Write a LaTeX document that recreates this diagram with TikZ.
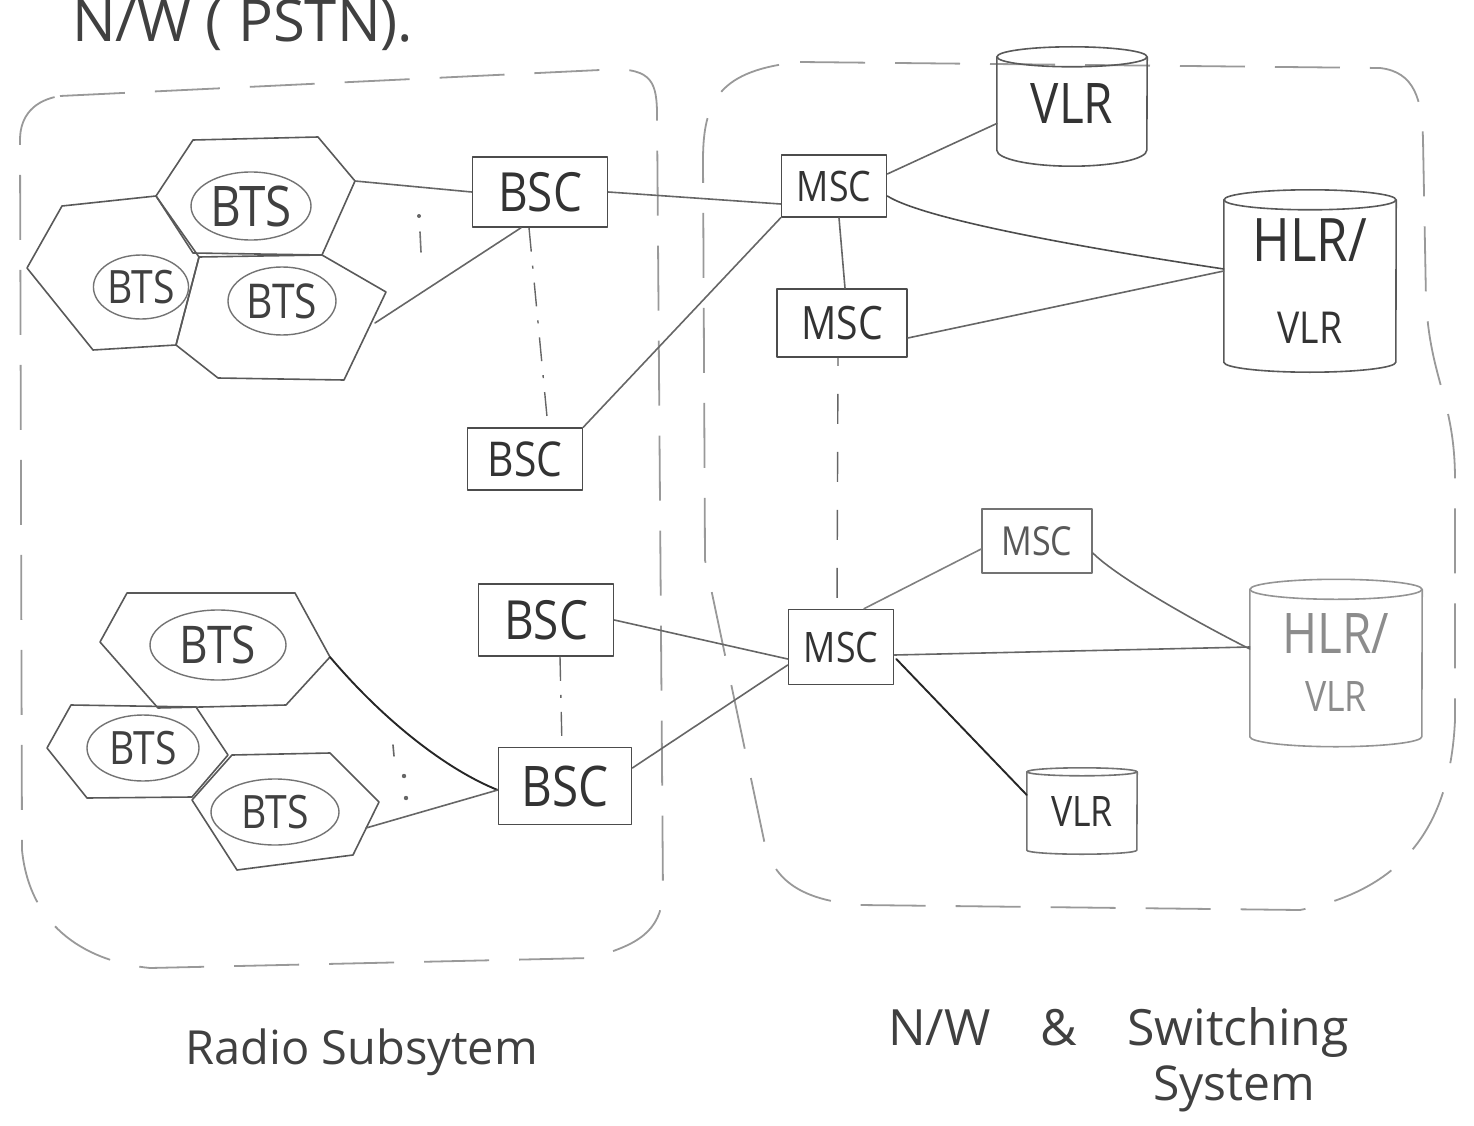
\documentclass[tikz,border=0pt]{standalone}
\usepackage{fontspec}
\setmainfont{Open Sans}
\newfontfamily\handfont{Open Sans}[FakeStretch=0.85]
\usetikzlibrary{shapes.geometric,calc}
\tikzset{
  pencil/.style={line width=1.6pt, line cap=round, line join=round},
  hexcell/.style={pencil, draw=black!65},
  btsnode/.style={ellipse, draw=black!55, line width=1.4pt, inner sep=0pt, text=black!75},
  boxnode/.style={rectangle, draw=black!70, pencil, inner sep=0pt, text=black!80},
  dbnode/.style={rectangle, inner sep=0pt, text=black!80, align=center},
  dbline/.style={pencil, draw=black!65},
  link/.style={pencil, draw=black!60},
  darklink/.style={line width=1.9pt, line cap=round, draw=black!85},
  dashdot/.style={line width=1.4pt, draw=black!60, dash pattern=on 24pt off 14pt on 3pt off 14pt},
  longdash/.style={line width=1.4pt, draw=black!60, dash pattern=on 30pt off 28pt, dash phase=-36pt},
  region/.style={line width=1.8pt, draw=black!40, dash pattern=on 65pt off 30pt},
  hw/.style={font=\handfont\fontsize{#1}{#1}\selectfont},
  lab/.style={font=\fontsize{#1}{#1}\selectfont, text=black!75, inner sep=0pt},
}
\newcommand{\drawcyl}[5]{% name, rx, ry top, ry bottom, colour
  \draw[dbline, draw=#5] (#1.north) ellipse[x radius=#2, y radius=#3];
  \draw[dbline, draw=#5] (#1.north west) -- (#1.south west) arc[start angle=180, end angle=0, x radius=#2, y radius=#4] -- (#1.north east);
}
\begin{document}
\begin{tikzpicture}[x=1pt, y=-1pt]
\useasboundingbox (0,0) rectangle (1474,1126);

% ---------- regions ----------
\draw[region] (60,96) -- (600,70) .. controls (650,66) and (656,80) .. (657,110) -- (663,895)
  .. controls (660,930) and (640,945) .. (590,958) -- (150,968)
  .. controls (90,962) and (30,930) .. (22,850) -- (20,140)
  .. controls (20,115) and (35,100) .. (60,96);
\draw[region] (800,62) -- (1380,68) .. controls (1415,72) and (1422,100) .. (1423,140)
  -- (1426,300) .. controls (1430,380) and (1455,400) .. (1455,480) -- (1455,720)
  .. controls (1450,830) and (1400,890) .. (1300,910) -- (860,905)
  .. controls (800,900) and (775,880) .. (765,845) -- (705,560) -- (703,160)
  .. controls (703,100) and (720,70) .. (800,62);

% ---------- title and captions ----------
\node[lab=58, anchor=base west] (title) at (72,42) {N/W ( PSTN).};
\node[lab=47, anchor=base west] (radiolab) at (185,1064) {Radio Subsytem};
\node[lab=50, anchor=base west] (nwlab) at (888,1045) {N/W\quad\&\quad Switching};
\node[lab=48, anchor=base] (syslab) at (1234,1100) {System};

% ---------- upper hex cells ----------
\draw[hexcell] (193,140) -- (318,137) -- (355,181) -- (322,255) -- (193,253) -- (156,196) -- cycle;
\draw[hexcell] (62,206) -- (156,196) -- (199,257) -- (176,345) -- (93,350) -- (27,268) -- cycle;
\draw[hexcell] (199,257) -- (322,255) -- (386,292) -- (344,380) -- (218,378) -- (176,345) -- cycle;
\coordinate (hT3) at (355,181);
\coordinate (hRc) at (375,323);

% ---------- lower hex cells ----------
\draw[hexcell] (127,593) -- (295,593) -- (330,657) -- (286,705) -- (158,708) -- (100,642) -- cycle;
\draw[hexcell] (71,705) -- (196,707) -- (228,755) -- (192,797) -- (87,798) -- (47,748) -- cycle;
\draw[hexcell] (232,755) -- (330,753) -- (379,802) -- (353,855) -- (237,870) -- (192,800) -- cycle;
\coordinate (hA3) at (330,657);
\coordinate (hCc) at (366,828);

% ---------- BTS ----------
\node[btsnode, minimum width=120, minimum height=68, hw=56] (btsT) at (251,206) {BTS};
\node[btsnode, minimum width=88, minimum height=64, hw=46] (btsL) at (141,287) {BTS};
\node[btsnode, minimum width=108, minimum height=68, hw=48] (btsR) at (282,301) {BTS};
\node[btsnode, minimum width=136, minimum height=70, hw=52] (btsA) at (218,645) {BTS};
\node[btsnode, minimum width=112, minimum height=66, hw=46] (btsB) at (143,748) {BTS};
\node[btsnode, minimum width=128, minimum height=66, hw=46] (btsC) at (275,812) {BTS};

% ---------- BSC ----------
\node[boxnode, minimum width=135, minimum height=70, hw=54] (bsc1) at (540,192) {BSC};
\node[boxnode, minimum width=115, minimum height=62, hw=48] (bsc2) at (525,459) {BSC};
\node[boxnode, minimum width=135, minimum height=72, hw=54] (bsc3) at (546,620) {BSC};
\node[boxnode, minimum width=133, minimum height=77, hw=56] (bsc4) at (565,786) {BSC};

% ---------- MSC ----------
\node[boxnode, minimum width=105, minimum height=62, hw=42] (msc1) at (834,186) {MSC};
\node[boxnode, minimum width=130, minimum height=68, hw=46] (msc2) at (842,323) {MSC};
\node[boxnode, minimum width=110, minimum height=64, hw=40, draw=black!55, text=black!65] (msc3) at (1037,541) {MSC};
\node[boxnode, minimum width=105, minimum height=75, hw=42] (msc4) at (841,647) {MSC};

% ---------- databases ----------
\node[dbnode, minimum width=150, minimum height=93, hw=56] (vlr1) at (1072,103.5) {VLR};
\drawcyl{vlr1}{75}{10}{16}{black!65}
\node[dbnode, minimum width=172, minimum height=162, hw=60] (hlr1) at (1310,281)
  {HLR/\\[22pt]{\fontsize{44}{44}\selectfont VLR}};
\drawcyl{hlr1}{86}{10}{10}{black!65}
\node[dbnode, minimum width=172, minimum height=147, hw=56, text=black!45] (hlr2) at (1336,663)
  {HLR/\\[2pt]{\fontsize{42}{42}\selectfont VLR}};
\drawcyl{hlr2}{86}{10}{10}{black!42}
\node[dbnode, minimum width=110, minimum height=78, hw=42] (vlr2) at (1082,811) {VLR};
\drawcyl{vlr2}{55}{4}{4}{black!55}

% ---------- connectors ----------
\draw[link] (hT3) -- (bsc1.west);
\draw[link] (hRc) -- ($(bsc1.south)+(-19,0)$);
\draw[link] (bsc1.east) -- ($(msc1.west)+(0,18)$);
\draw[link] (bsc2.north east) -- (msc1.south west);
\draw[link] ($(msc1.east)+(0,-12)$) -- ($(vlr1.west)+(0,20)$);
\draw[link, draw=black!70] ($(msc1.east)+(0,10)$) .. controls +(40,25) and +(-120,-18) .. ($(hlr1.west)+(0,-12)$);
\draw[link] ($(msc1.south)+(5,0)$) -- ($(msc2.north)+(3,0)$);
\draw[link] ($(msc2.east)+(0,15)$) -- ($(hlr1.west)+(0,-10)$);
\draw[longdash] ($(msc2.south)+(-4,0)$) -- ($(msc4.north)+(-4,0)$);
\draw[dashdot] ($(bsc1.south)+(-11,0)$) -- ($(bsc2.north)+(23,0)$);

\draw[darklink] (hA3) .. controls +(55,65) and +(-50,-20) .. ($(bsc4.west)+(0,4)$);
\draw[link] (hCc) -- ($(bsc4.west)+(0,4)$);
\draw[link] (bsc3.east) -- ($(msc4.west)+(0,12)$);
\draw[link] ($(bsc4.east)+(0,-18)$) -- ($(msc4.west)+(0,18)$);
\draw[dashdot] ($(bsc3.south)+(14,0)$) -- ($(bsc4.north)+(-3,0)$);
\draw[link, draw=black!50] ($(msc4.north)+(23,0)$) -- ($(msc3.west)+(0,8)$);
\draw[link] ($(msc3.east)+(0,12)$) .. controls +(25,25) and +(-50,-25) .. ($(hlr2.west)+(0,-14)$);
\draw[link] ($(msc4.east)+(0,8)$) -- ($(hlr2.west)+(0,-16)$);
\draw[darklink] ($(msc4.east)+(2,12)$) -- ($(vlr2.west)+(0,-16)$);

% ---------- dotted marks ----------
\fill[black!60] (419,216) circle (2);
\draw[pencil, draw=black!55] (420,232) -- (421,252);
\draw[pencil, draw=black!60] (393,745) -- (394,756);
\fill[black!60] (404,776) circle (2.2);
\fill[black!60] (406,798) circle (2.2);
\end{tikzpicture}
\end{document}
